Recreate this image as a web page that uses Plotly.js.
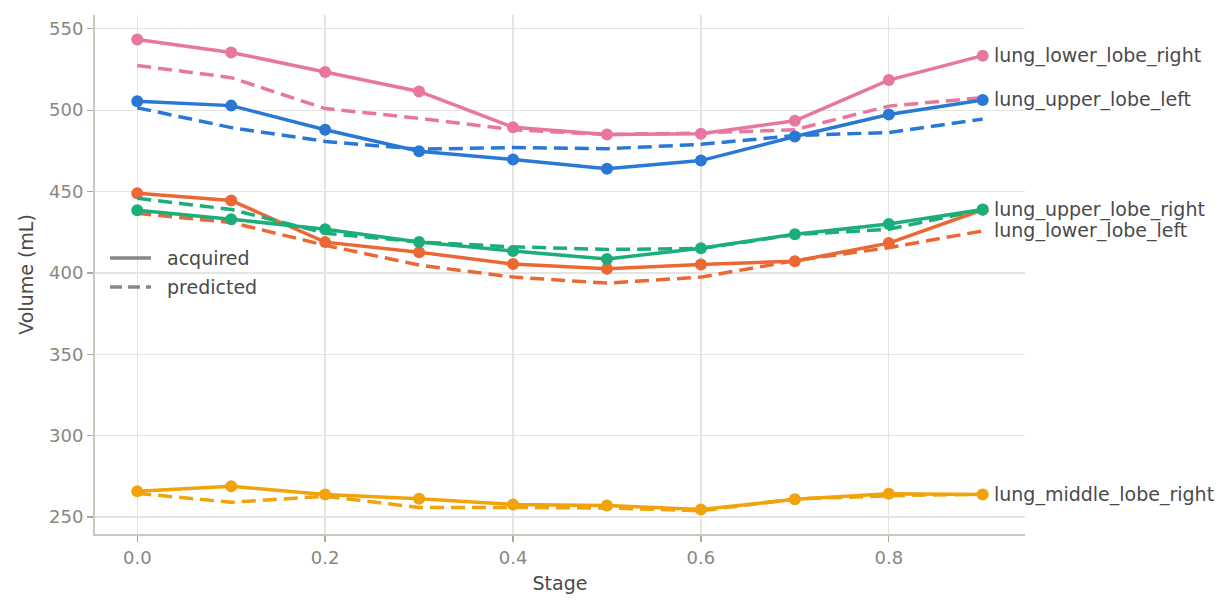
<!DOCTYPE html>
<html>
<head>
<meta charset="utf-8">
<script src="https://cdn.plot.ly/plotly-3.0.1.min.js"></script>
<style>html,body{margin:0;padding:0;background:#fff;}#chart{width:1231px;height:612px;}</style>
</head>
<body>
<div id="chart"></div>
<script>
const stages = [0.0, 0.1, 0.2, 0.3, 0.4, 0.5, 0.6, 0.7, 0.8, 0.9];
const structures = ["lung_lower_lobe_right", "lung_upper_lobe_left", "lung_lower_lobe_left", "lung_upper_lobe_right", "lung_middle_lobe_right"];
const colors = ["#e8779f", "#2a78d6", "#eb6834", "#1bae7a", "#f0a30a"];
const acquired = {
  lung_lower_lobe_right: [543.5, 535.5, 523.5, 511.5, 489.5, 485, 485.5, 493.5, 518.5, 533.5],
  lung_upper_lobe_left: [505.5, 502.8, 488, 474.8, 469.7, 464, 469, 483.8, 497.3, 506.3],
  lung_upper_lobe_right: [438.5, 433, 426.8, 419, 413.4, 408.5, 415.2, 423.8, 430, 439],
  lung_lower_lobe_left: [449, 444.5, 418.9, 412.7, 405.4, 402.5, 405.2, 407.2, 418.3, 438.8],
  lung_middle_lobe_right: [265.7, 268.8, 263.8, 261.2, 257.7, 257, 254.6, 260.8, 264.3, 263.8]
};
const predicted = {
  lung_lower_lobe_right: [527.5, 520, 501, 495, 488, 485, 486, 488, 502.5, 507.7],
  lung_upper_lobe_left: [501.5, 489.3, 480.8, 476, 477, 476.3, 479, 484.4, 486.3, 494.5],
  lung_upper_lobe_right: [445.8, 439, 424.4, 419, 416, 414.4, 415, 423.5, 426.8, 439],
  lung_lower_lobe_left: [436.6, 431, 417, 404.8, 397.4, 393.7, 397.4, 407.5, 415.5, 425.8],
  lung_middle_lobe_right: [264.5, 259, 262.7, 255.8, 255.8, 255.5, 253.8, 261, 263, 264]
};
const typeLabels = ["acquired", "predicted"];
const typeDash = ["solid", "12px,6px"];

const FONT = "DejaVu Sans";
const DASH = "14px,7px";
const traces = [];
structures.forEach((s, i) => {
  traces.push({x: stages, y: predicted[s], mode: "lines", line: {color: colors[i], width: 3.5, dash: DASH}, showlegend: false, hoverinfo: "skip"});
  traces.push({x: stages, y: acquired[s], mode: "lines+markers", line: {color: colors[i], width: 3.5}, marker: {color: colors[i], size: 12}, showlegend: false});
});

const annotations = structures.map((s, i) => {
  let yv = acquired[s][acquired[s].length - 1];
  if (s === "lung_lower_lobe_left") yv = predicted[s][predicted[s].length - 1];
  return {x: stages[stages.length - 1], y: yv, xref: "x", yref: "y", text: s, showarrow: false,
    xanchor: "left", xshift: 9, font: {family: FONT, size: 19, color: "#4a4a4a"}};
});

// manual legend (layout positions in paper units)
const legX0 = 0.0161, legX1 = 0.0602, legTextX = 0.0753;
const legY = [0.5318, 0.4759];
const shapes = [];
typeLabels.forEach((t, k) => {
  shapes.push({type: "line", xref: "paper", yref: "paper", x0: legX0, x1: legX1, y0: legY[k], y1: legY[k],
    line: {color: "#888883", width: 3.5, dash: typeDash[k]}});
  annotations.push({xref: "paper", yref: "paper", x: legTextX, y: legY[k], text: t, showarrow: false,
    xanchor: "left", yanchor: "middle", font: {family: FONT, size: 19, color: "#4a4a4a"}});
});

const layout = {
  width: 1231, height: 612,
  margin: {l: 95, r: 206, t: 15, b: 78},
  paper_bgcolor: "#fff", plot_bgcolor: "#fff",
  font: {family: FONT, color: "#4a4a4a"},
  showlegend: false,
  xaxis: {range: [-0.045, 0.945], tickvals: [0, 0.2, 0.4, 0.6, 0.8], ticktext: ["0.0", "0.2", "0.4", "0.6", "0.8"],
    automargin: false,
    showgrid: true, gridcolor: "#e5e5df", gridwidth: 1.3, zeroline: false,
    showline: true, linecolor: "#c8c8bc", linewidth: 2,
    ticks: "outside", ticklen: 6, tickcolor: "#a8a8a0", tickwidth: 1.3,
    tickfont: {family: FONT, size: 18, color: "#888883"},
    title: {text: "Stage", font: {family: FONT, size: 19, color: "#4a4a4a"}, standoff: 10}},
  yaxis: {range: [239.5, 558.5], tickvals: [250, 300, 350, 400, 450, 500, 550],
    automargin: false,
    showgrid: true, gridcolor: "#e5e5df", gridwidth: 1.3, zeroline: false,
    showline: true, linecolor: "#c8c8bc", linewidth: 2,
    ticks: "outside", ticklen: 6, tickcolor: "#a8a8a0", tickwidth: 1.3,
    tickfont: {family: FONT, size: 18, color: "#888883"},
    title: {text: "Volume (mL)", font: {family: FONT, size: 19, color: "#4a4a4a"}, standoff: 10}},
  shapes: shapes,
  annotations: annotations
};
Plotly.newPlot("chart", traces, layout, {displayModeBar: false, staticPlot: true});
</script>
</body>
</html>
